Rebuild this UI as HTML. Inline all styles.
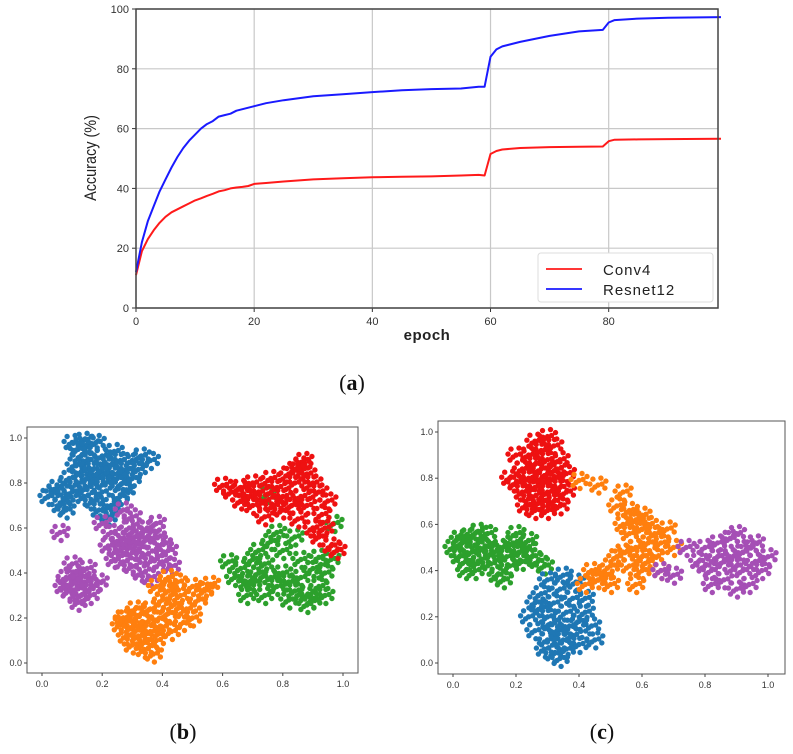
<!DOCTYPE html>
<html><head><meta charset="utf-8"><style>
body{margin:0;background:#fff;width:793px;height:754px;overflow:hidden}
svg{display:block}
text{font-family:"Liberation Sans","DejaVu Sans",sans-serif}
</style></head><body>
<svg id="svg" width="793" height="754"></svg>
<script>
// ---- Chart (a) data ----
const epochs = [0,1,2,3,4,5,6,7,8,9,10,11,12,13,14,15,16,17,18,19,20,22,25,30,35,40,45,50,55,58,59,60,61,62,65,70,75,79,80,81,85,90,99];
const resnet12 = [12,22,29,34,39,43,47,50.5,53.5,56,58,60,61.5,62.5,64,64.5,65,66,66.5,67,67.5,68.5,69.5,70.8,71.5,72.2,72.8,73.2,73.4,74,74,84,86.5,87.5,89,91,92.5,93,95.5,96.3,96.8,97.1,97.3];
const conv4 = [11,19,23,26,28.5,30.5,32,33,34,35,36,36.7,37.5,38.2,39,39.4,40,40.3,40.5,40.8,41.5,41.8,42.3,43,43.4,43.7,43.9,44,44.3,44.5,44.3,51.5,52.5,53,53.5,53.8,53.9,54,55.8,56.3,56.4,56.5,56.6];
const xTicksA = [0,20,40,60,80];
const yTicksA = [0,20,40,60,80,100];
// ---- Chart (b) data ----
const bBlue=[[.02,.74],[.05,.78],[.07,.72],[.09,.82],[.1,.98],[.12,.95],[.14,.99],[.16,.97],[.18,.98],[.11,.88],[.13,.85],[.15,.9],[.17,.86],[.2,.92],[.22,.88],[.24,.94],[.26,.9],[.28,.86],[.3,.9],[.33,.92],[.36,.9],[.12,.8],[.15,.78],[.18,.82],[.21,.8],[.24,.84],[.27,.8],[.3,.82],[.14,.74],[.17,.72],[.2,.76],[.23,.7],[.26,.74],[.1,.76],[.08,.68],[.19,.68],[.22,.65],[.06,.7],[.04,.76],[.13,.92],[.28,.77],[.32,.86],[.16,.83],[.2,.86],[.25,.82]];
const bPurple=[[.2,.62],[.23,.58],[.26,.55],[.29,.6],[.32,.57],[.35,.55],[.38,.56],[.4,.53],[.42,.5],[.22,.52],[.25,.5],[.28,.52],[.31,.5],[.34,.48],[.37,.46],[.4,.45],[.43,.43],[.27,.45],[.3,.43],[.33,.4],[.36,.38],[.24,.46],[.3,.65],[.27,.68],[.35,.6],[.38,.62],[.32,.53],[.29,.55],[.08,.38],[.1,.35],[.12,.33],[.14,.36],[.11,.4],[.09,.32],[.13,.3],[.15,.42],[.17,.34],[.12,.27],[.16,.3],[.19,.36],[.1,.44],[.06,.58],[.07,.34],[.13,.38]];
const bOrange=[[.26,.17],[.28,.2],[.3,.16],[.32,.12],[.34,.18],[.36,.14],[.38,.1],[.4,.16],[.33,.22],[.36,.24],[.39,.2],[.42,.22],[.44,.26],[.46,.3],[.48,.24],[.5,.2],[.52,.28],[.54,.32],[.42,.32],[.45,.36],[.4,.28],[.3,.08],[.34,.06],[.37,.04],[.28,.12],[.32,.15],[.35,.1],[.43,.14],[.47,.18],[.5,.34],[.56,.35],[.38,.34],[.42,.38],[.31,.24],[.27,.2]];
const bRed=[[.6,.79],[.63,.76],[.66,.78],[.68,.74],[.7,.8],[.72,.76],[.74,.72],[.76,.82],[.78,.78],[.8,.74],[.82,.84],[.84,.8],[.86,.88],[.88,.84],[.9,.8],[.92,.76],[.8,.68],[.83,.7],[.86,.74],[.88,.7],[.85,.64],[.9,.6],[.92,.56],[.94,.6],[.96,.52],[.98,.5],[.74,.65],[.77,.7],[.7,.7],[.66,.72],[.87,.9],[.84,.86],[.93,.66],[.95,.72]];
const bGreen=[[.62,.45],[.64,.38],[.66,.42],[.68,.36],[.7,.46],[.72,.4],[.74,.44],[.76,.38],[.78,.34],[.8,.4],[.82,.36],[.84,.32],[.86,.38],[.88,.3],[.9,.28],[.92,.34],[.94,.4],[.96,.46],[.9,.42],[.86,.46],[.8,.5],[.76,.54],[.78,.58],[.84,.56],[.72,.5],[.68,.3],[.74,.3],[.82,.28],[.88,.26],[.94,.3],[.97,.62],[.75,.75],[.92,.47],[.7,.36]];
// ---- Chart (c) data ----
const cRed=[[.2,.78],[.22,.84],[.24,.9],[.26,.96],[.28,.92],[.3,.98],[.32,.94],[.34,.88],[.36,.82],[.24,.8],[.26,.86],[.28,.84],[.3,.88],[.32,.8],[.34,.76],[.22,.74],[.25,.72],[.28,.7],[.3,.74],[.32,.7],[.26,.66],[.3,.66],[.34,.68],[.36,.74],[.18,.8],[.2,.9],[.28,.78],[.3,.82],[.26,.76],[.33,.84],[.23,.68]];
const cGreen=[[0,.5],[.02,.46],[.03,.52],[.04,.44],[.05,.55],[.06,.48],[.07,.4],[.08,.52],[.09,.45],[.1,.5],[.11,.56],[.12,.43],[.04,.4],[.02,.54],[.08,.57],[.13,.48],[.15,.5],[.17,.46],[.19,.52],[.21,.48],[.23,.5],[.25,.46],[.27,.44],[.29,.42],[.18,.42],[.16,.36],[.2,.56],[.22,.44],[.24,.53],[.14,.38]];
const cBlue=[[.24,.2],[.26,.14],[.28,.24],[.3,.1],[.32,.04],[.34,.02],[.36,.06],[.38,.12],[.4,.18],[.42,.22],[.44,.16],[.28,.3],[.3,.2],[.32,.26],[.34,.32],[.36,.22],[.38,.28],[.33,.14],[.35,.1],[.31,.17],[.37,.16],[.29,.06],[.4,.08],[.26,.26],[.42,.28],[.3,.36],[.35,.38],[.45,.1],[.39,.35]];
const cOrange=[[.52,.68],[.54,.74],[.56,.66],[.58,.62],[.6,.64],[.62,.6],[.64,.56],[.66,.52],[.68,.58],[.56,.56],[.58,.5],[.6,.46],[.62,.44],[.54,.48],[.52,.46],[.56,.42],[.6,.4],[.64,.46],[.66,.4],[.5,.42],[.48,.38],[.46,.36],[.44,.4],[.42,.34],[.5,.34],[.58,.34],[.62,.52],[.54,.6],[.7,.5],[.4,.79],[.46,.77],[.6,.58]];
const cPurple=[[.78,.44],[.8,.5],[.82,.4],[.84,.52],[.86,.36],[.88,.46],[.9,.56],[.92,.4],[.94,.5],[.96,.44],[.98,.4],[1,.46],[.86,.44],[.9,.32],[.94,.34],[.82,.34],[.8,.42],[.88,.54],[.92,.48],[.96,.52],[.84,.46],[.9,.42],[.74,.5],[.7,.38],[.66,.4]];
const scatTicks=[0,0.2,0.4,0.6,0.8,1.0];

const NS="http://www.w3.org/2000/svg";
const svg=document.getElementById('svg');
function mk(tag,attrs,parent,txt){const e=document.createElementNS(NS,tag);for(const k in attrs)e.setAttribute(k,attrs[k]);if(txt!==undefined)e.textContent=txt;(parent||svg).appendChild(e);return e;}

// ---- Chart (a) ----
const ax={l:136,r:718,t:9,b:308,xmax:98.5};
const xA=v=>ax.l+v/ax.xmax*(ax.r-ax.l);
const yA=v=>ax.b-v/100*(ax.b-ax.t);
const gA=mk('g',{});


xTicksA.forEach(t=>{
  const l=mk('line',{x1:xA(t),x2:xA(t),y1:ax.t,y2:ax.b,stroke:'#c8c8c8','stroke-width':1.2},gA);
  
  mk('line',{x1:xA(t),x2:xA(t),y1:ax.b,y2:ax.b+4,stroke:'#333'},gA);
  const tx=mk('text',{x:xA(t),y:ax.b+17,'font-size':11,'text-anchor':'middle',fill:'#333'},gA,t);
  
});
yTicksA.forEach(t=>{
  const l=mk('line',{x1:ax.l,x2:ax.r,y1:yA(t),y2:yA(t),stroke:'#c8c8c8','stroke-width':1.2},gA);
  
  mk('line',{x1:ax.l-4,x2:ax.l,y1:yA(t),y2:yA(t),stroke:'#333'},gA);
  const tx=mk('text',{x:ax.l-7,y:yA(t)+4,'font-size':11,'text-anchor':'end',fill:'#333'},gA,t);
  
});
function line(vals,color,name){
  const d=epochs.map((e,i)=>(i?'L':'M')+xA(e).toFixed(1)+' '+yA(vals[i]).toFixed(1)).join(' ');
  const p=mk('path',{d,fill:'none',stroke:color,'stroke-width':2,'stroke-linejoin':'round'},gA);
  
}
line(conv4,'#ff1a1a','conv4-line');
line(resnet12,'#1a1aff','resnet12-line');
const frA=mk('rect',{x:ax.l,y:ax.t,width:ax.r-ax.l,height:ax.b-ax.t,fill:'none',stroke:'#444','stroke-width':1.5},gA);

const xt=mk('text',{x:427,y:340,'font-size':15,'text-anchor':'middle',fill:'#222','letter-spacing':'0.5','font-weight':'bold'},gA,'epoch');

const yt=mk('text',{x:0,y:0,'font-size':17,'text-anchor':'middle',fill:'#222',transform:'translate(96,158) rotate(-90) scale(0.85,1)'},gA,'Accuracy (%)');

const lg=mk('g',{},gA);

mk('rect',{x:538,y:253,width:175,height:49,rx:3,fill:'#fff',stroke:'#ddd'},lg);
[['Conv4','#ff1a1a',270],['Resnet12','#1a1aff',290]].forEach(([n,c,y])=>{
  const e=mk('g',{},lg);
  
  mk('line',{x1:546,x2:582,y1:y-1,y2:y-1,stroke:c,'stroke-width':1.8},e);
  mk('text',{x:603,y:y+5,'font-size':15,fill:'#222','letter-spacing':'1'},e,n);
});
const ca=mk('text',{x:352,y:390,'text-anchor':'middle',fill:'#111',style:'font-family:"Liberation Serif",serif;font-size:22px'},svg);
ca.innerHTML='(<tspan font-weight="bold">a</tspan>)';


// ---- scatter charts ----
const COL={blue:'#1f77b4',orange:'#ff7f0e',green:'#2ca02c',red:'#ee1111',purple:'#a54fb5'};
const HALO=[[0,0],[7,3],[-6,5],[3,-7],[-5,-6],[8,-4],[-8,-1],[1,8],[-3,2],[4,-1]]; // visual density pattern (px)
function scatter(cfg){
  const g=mk('g',{});
  
  const sx=v=>cfg.x0+v*(cfg.x1-cfg.x0), sy=v=>cfg.y0-v*(cfg.y0-cfg.y1);
  cfg.series.forEach(([pts,col,nm])=>{
    const sg=mk('g',{fill:COL[col]},g);
    
    pts.forEach(p=>{
      const pg=mk('g',{},sg);
      
      
      HALO.forEach(o=>{
        mk('circle',{cx:(sx(p[0])+o[0]).toFixed(1),cy:(sy(p[1])+o[1]).toFixed(1),r:2.7},pg);
      });
    });
  });
  const fr=mk('rect',{x:cfg.l,y:cfg.t,width:cfg.r-cfg.l,height:cfg.b-cfg.t,fill:'none',stroke:'#555','stroke-width':1},g);
  
  scatTicks.forEach(t=>{
    mk('line',{x1:sx(t),x2:sx(t),y1:cfg.b,y2:cfg.b+3,stroke:'#444'},g);
    const a=mk('text',{x:sx(t),y:cfg.b+14,'font-size':9,'text-anchor':'middle',fill:'#333'},g,t.toFixed(1));
    
    mk('line',{x1:cfg.l-3,x2:cfg.l,y1:sy(t),y2:sy(t),stroke:'#444'},g);
    const b=mk('text',{x:cfg.l-5,y:sy(t)+3,'font-size':9,'text-anchor':'end',fill:'#333'},g,t.toFixed(1));
    
  });
  const cap=mk('text',{x:cfg.capX,y:739,'text-anchor':'middle',fill:'#111',style:'font-family:"Liberation Serif",serif;font-size:22px'},svg);
  cap.innerHTML='(<tspan font-weight="bold">'+cfg.cap+'</tspan>)';
  
}
scatter({name:'tsne-scatter-b',l:27,r:358,t:427,b:673,x0:42,x1:343,y0:663,y1:438,capX:183,cap:'b',
  series:[[bBlue,'blue','cluster-blue'],[bPurple,'purple','cluster-purple'],[bOrange,'orange','cluster-orange'],[bGreen,'green','cluster-green'],[bRed,'red','cluster-red']]});
scatter({name:'tsne-scatter-c',l:438,r:785,t:421,b:674,x0:453,x1:768,y0:663,y1:432,capX:602,cap:'c',
  series:[[cRed,'red','cluster-red'],[cGreen,'green','cluster-green'],[cBlue,'blue','cluster-blue'],[cOrange,'orange','cluster-orange'],[cPurple,'purple','cluster-purple']]});
</script>
</body></html>
